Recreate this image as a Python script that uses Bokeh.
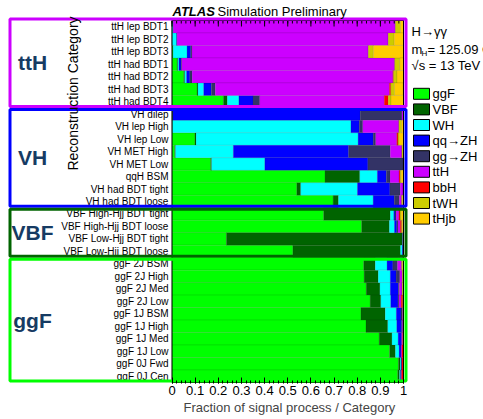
import numpy as np
from bokeh.plotting import figure
from bokeh.models import ColumnDataSource, Range1d, FixedTicker, Title
from bokeh.core.properties import value
from bokeh.embed import file_html
from bokeh.resources import INLINE

# ---------------- data ----------------
categories = ["ttH lep BDT1", "ttH lep BDT2", "ttH lep BDT3", "ttH had BDT1", "ttH had BDT2",
              "ttH had BDT3", "ttH had BDT4", "VH dilep", "VH lep High", "VH lep Low",
              "VH MET High", "VH MET Low", "qqH BSM", "VH had BDT tight", "VH had BDT loose",
              "VBF High-Hjj BDT tight", "VBF High-Hjj BDT loose", "VBF Low-Hjj BDT tight",
              "VBF Low-Hjj BDT loose", "ggF 2J BSM", "ggF 2J High", "ggF 2J Med", "ggF 2J Low",
              "ggF 1J BSM", "ggF 1J High", "ggF 1J Med", "ggF 1J Low", "ggF 0J Fwd", "ggF 0J Cen"]

process_labels = ["ggF", "VBF", "WH", "qq→ZH", "gg→ZH", "ttH", "bbH", "tWH", "tHjb"]
process_keys = ["ggF", "VBF", "WH", "qqZH", "ggZH", "ttH", "bbH", "tWH", "tHjb"]

ggF  = [0.0, 0.0, 0.005, 0.022, 0.051, 0.108, 0.222, 0.0, 0.002, 0.099, 0.012, 0.167, 0.661, 0.539, 0.696,
        0.655, 0.819, 0.235, 0.522, 0.828, 0.830, 0.839, 0.856, 0.816, 0.838, 0.895, 0.940, 0.978, 0.975]
VBF  = [0.0, 0.0, 0.0, 0.003, 0.004, 0.004, 0.017, 0.003, 0.0, 0.005, 0.003, 0.004, 0.150, 0.017, 0.023,
        0.288, 0.120, 0.760, 0.465, 0.050, 0.061, 0.059, 0.046, 0.105, 0.094, 0.055, 0.025, 0.007, 0.008]
WH   = [0.005, 0.020, 0.060, 0.005, 0.008, 0.025, 0.050, 0.0, 0.771, 0.700, 0.250, 0.230, 0.076, 0.245, 0.150,
        0.015, 0.022, 0.002, 0.008, 0.051, 0.052, 0.045, 0.043, 0.048, 0.039, 0.027, 0.016, 0.004, 0.004]
qqZH = [0.0, 0.002, 0.016, 0.009, 0.014, 0.033, 0.061, 0.810, 0.036, 0.065, 0.498, 0.445, 0.039, 0.140, 0.091,
        0.005, 0.010, 0.0, 0.003, 0.025, 0.025, 0.035, 0.031, 0.020, 0.021, 0.015, 0.008, 0.003, 0.003]
ggZH = [0.0, 0.0, 0.005, 0.003, 0.010, 0.017, 0.029, 0.180, 0.015, 0.011, 0.180, 0.152, 0.016, 0.045, 0.022,
        0.005, 0.005, 0.0, 0.0, 0.020, 0.016, 0.004, 0.004, 0.005, 0.003, 0.0, 0.0, 0.001, 0.0]
ttH  = [0.960, 0.912, 0.762, 0.920, 0.867, 0.752, 0.538, 0.007, 0.156, 0.091, 0.050, 0.003, 0.039, 0.012, 0.010,
        0.012, 0.010, 0.003, 0.002, 0.018, 0.011, 0.012, 0.010, 0.003, 0.003, 0.004, 0.004, 0.0, 0.002]
bbH  = [0.0, 0.0, 0.0, 0.0, 0.003, 0.006, 0.017, 0.0, 0.0, 0.005, 0.0, 0.0, 0.005, 0.0, 0.0,
        0.005, 0.006, 0.0, 0.0, 0.0, 0.0, 0.0, 0.007, 0.0, 0.0, 0.004, 0.007, 0.007, 0.008]
tWH  = [0.022, 0.026, 0.022, 0.022, 0.015, 0.016, 0.012, 0.0, 0.012, 0.005, 0.007, 0.0, 0.004, 0.002, 0.004,
        0.005, 0.003, 0.0, 0.0, 0.004, 0.003, 0.003, 0.002, 0.002, 0.001, 0.0, 0.0, 0.0, 0.0]
tHjb = [0.013, 0.040, 0.130, 0.017, 0.030, 0.037, 0.056, 0.0, 0.010, 0.020, 0.0, 0.0, 0.010, 0.0, 0.004,
        0.010, 0.005, 0.0, 0.0, 0.004, 0.002, 0.003, 0.001, 0.001, 0.001, 0.0, 0.0, 0.0, 0.0]

groups = ["ttH", "VH", "VBF", "ggF"]
group_sizes = [7, 8, 4, 10]

x_ticks = [0, 0.1, 0.2, 0.3, 0.4, 0.5, 0.6, 0.7, 0.8, 0.9, 1]
x_tick_labels = ["0", "0.1", "0.2", "0.3", "0.4", "0.5", "0.6", "0.7", "0.8", "0.9", "1"]

# ---------------- styles / layout ----------------
process_colors = ["#00ff00", "#006400", "#00ffff", "#0000ff", "#333366", "#cc00ff", "#ff0000", "#cccc00", "#ffcc00"]
group_colors = ["#cc00ff", "#0000ff", "#006400", "#00ff00"]
label_blue = "#163b63"
FONT = "Liberation Sans"

W, H = 483, 419
FRAME_BOTTOM_PX = 383.0
PX0, PX1 = 171.5, 403.0          # pixel of x=0 and x=1
PY_TOP, PY_BOT = 20.0, 382.0     # pixel of top and bottom of the bars
n = len(categories)
kx = PX1 - PX0
ky = (PY_BOT - PY_TOP) / n


def X(px):
    return (px - PX0) / kx


def Y(py):
    return (PY_BOT - py) / ky


p = figure(width=W, height=H, output_backend="svg", toolbar_location=None,
           x_range=Range1d(X(0), X(W)), y_range=Range1d(Y(FRAME_BOTTOM_PX), Y(0)),
           y_axis_location=None, min_border_left=0, min_border_right=0,
           min_border_top=0, min_border_bottom=int(H - FRAME_BOTTOM_PX))
p.outline_line_color = None
p.xgrid.visible = False
p.ygrid.visible = False
p.background_fill_color = "white"
p.border_fill_color = "white"

# bars
ys = [n - i - 0.5 for i in range(n)]
src = ColumnDataSource(dict(y=ys, cat=categories, ggF=ggF, VBF=VBF, WH=WH, qqZH=qqZH, ggZH=ggZH,
                            ttH=ttH, bbH=bbH, tWH=tWH, tHjb=tHjb))
p.hbar_stack(process_keys, y="y", height=1.0, fill_color=process_colors,
             line_color="black", line_alpha=0.18, line_width=0.5, source=src)

# frame around the bars
p.quad(left=[x_ticks[0]], right=[x_ticks[-1]], bottom=[0], top=[n],
       fill_color=None, line_color="black", line_width=1)

# top ticks (inside)
minor = [round(v, 3) for v in np.arange(0, 1.0001, 0.02)]
p.segment(x0=x_ticks, y0=[n] * len(x_ticks), x1=x_ticks, y1=[n - 6 / ky] * len(x_ticks),
          line_color="black", line_width=1)
p.segment(x0=minor, y0=[n] * len(minor), x1=minor, y1=[n - 3 / ky] * len(minor),
          line_color="black", line_width=1)

# bottom axis
ax = p.xaxis[0]
ax.ticker = FixedTicker(ticks=x_ticks, minor_ticks=minor)
ax.major_label_overrides = {t: l for t, l in zip(x_ticks, x_tick_labels)}
ax.axis_line_color = None
ax.major_tick_in = 6
ax.major_tick_out = 0
ax.minor_tick_in = 3
ax.minor_tick_out = 0
ax.major_label_text_font = FONT
ax.major_label_text_font_size = "13px"
ax.major_label_text_color = "black"
ax.major_label_standoff = 2

t = Title(text="Fraction of signal process / Category", align="left", offset=183,
          text_font=FONT, text_font_size="13px", text_font_style="normal", standoff=0)
p.add_layout(t, "below")

# category labels
p.text(x=[X(168)] * n, y=ys, text=categories, text_align="right", text_baseline="middle",
       text_font=value(FONT), text_font_size="10px", text_color="black")

# group boxes and labels
bounds = np.concatenate([[0], np.cumsum(group_sizes)])
g_top_px = [PY_TOP + b * ky for b in bounds[:-1]]
g_bot_px = [PY_TOP + b * ky for b in bounds[1:]]
g_top_px[0] = PY_TOP - 3
box_top = [Y(v + 1.5) for v in g_top_px]
box_bot = [Y(v - 1.5) for v in g_bot_px]
p.quad(left=[X(9.5)] * 4, right=[X(405.5)] * 4, top=box_top, bottom=box_bot,
       fill_color=None, line_color=group_colors, line_width=3)
g_center = [(a + b) / 2 for a, b in zip(box_top, box_bot)]
p.text(x=[X(32)] * 4, y=g_center, text=groups, text_align="center", text_baseline="middle",
       text_font=value(FONT), text_font_size="21px", text_font_style="bold", text_color=label_blue)

p.text(x=[X(72)], y=[Y(93)], text=["Reconstruction Category"], angle=np.pi / 2,
       text_align="center", text_baseline="middle", text_font=value(FONT),
       text_font_size="14px", text_color="black")

# header
p.text(x=[X(172)], y=[Y(11)], text=["ATLAS"], text_align="left", text_baseline="middle",
       text_font=value(FONT), text_font_size="13px", text_font_style="bold italic", text_color="black")
p.text(x=[X(217)], y=[Y(11)], text=["Simulation Preliminary"], text_align="left", text_baseline="middle",
       text_font=value(FONT), text_font_size="13px", text_color="black")

# right-hand texts
p.text(x=[X(411)], y=[Y(31)], text=["H→γγ"], text_align="left", text_baseline="middle",
       text_font=value(FONT), text_font_size="13px", text_color="black")
p.text(x=[X(411)], y=[Y(49)], text=["m"], text_align="left", text_baseline="middle",
       text_font=value(FONT), text_font_size="13px", text_color="black")
p.text(x=[X(421)], y=[Y(53)], text=["H"], text_align="left", text_baseline="middle",
       text_font=value(FONT), text_font_size="8px", text_color="black")
p.text(x=[X(427)], y=[Y(49)], text=["= 125.09 GeV"], text_align="left", text_baseline="middle",
       text_font=value(FONT), text_font_size="13px", text_color="black")
p.text(x=[X(411)], y=[Y(65)], text=["√s = 13 TeV"], text_align="left", text_baseline="middle",
       text_font=value(FONT), text_font_size="13px", text_color="black")

# legend
leg_y = [Y(93.3 + i * 15.6) for i in range(len(process_labels))]
p.rect(x=[X(421)] * len(leg_y), y=leg_y, width=16, height=11, width_units="screen", height_units="screen",
       fill_color=process_colors, line_color="black", line_width=1)
p.text(x=[X(432)] * len(leg_y), y=leg_y, text=process_labels, text_align="left", text_baseline="middle",
       text_font=value(FONT), text_font_size="13px", text_color="black")

open("out.html", "w").write(file_html(p, INLINE))
